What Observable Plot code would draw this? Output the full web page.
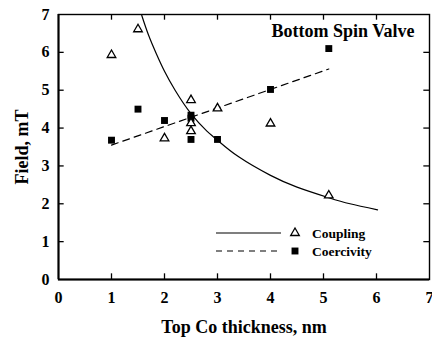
<!DOCTYPE html>
<html><head><meta charset="utf-8">
<script src="https://cdn.jsdelivr.net/npm/d3@7"></script>
<script src="https://cdn.jsdelivr.net/npm/@observablehq/plot@0.6"></script>
<style>
body{margin:0;background:#fff;}
#wrap{position:relative;width:432px;height:339px;}
#wrap svg text{font-family:"Liberation Serif","Times New Roman",serif;font-weight:bold;}
#legend{position:absolute;left:0;top:0;pointer-events:none;}
</style></head><body><div id="wrap"></div>
<script>
// ---- data ----
const xTicks = [0, 1, 2, 3, 4, 5, 6, 7];
const yTicks = [0, 1, 2, 3, 4, 5, 6, 7];
const innerTicks = [1, 2, 3, 4, 5, 6];

const couplingX = [1.0, 1.5, 2.0, 2.5, 2.5, 2.5, 3.0, 4.0, 5.1];
const couplingY = [5.93, 6.61, 3.73, 4.74, 4.13, 3.92, 4.52, 4.12, 2.22];

const coercivityX = [1.0, 1.5, 2.0, 2.5, 2.5, 2.5, 3.0, 4.0, 5.1];
const coercivityY = [3.68, 4.5, 4.2, 4.34, 4.26, 3.7, 3.7, 5.02, 6.1];

const couplingFitX = [1.57, 1.7, 1.85, 2.0, 2.2, 2.5, 2.8, 3.0, 3.4, 4.0, 4.5, 5.1, 5.5, 6.02];
const couplingFitY = [6.98, 6.45, 5.95, 5.5, 5.0, 4.38, 3.92, 3.68, 3.24, 2.75, 2.44, 2.16, 2.0, 1.84];

const coercivityFitX = [1.0, 5.1];
const coercivityFitY = [3.55, 5.56];

const seriesNames = ["Coupling", "Coercivity"];
const titleText = "Bottom Spin Valve";
const xLabel = "Top Co thickness, nm";
const yLabel = "Field, mT";

// ---- build tables ----
const zip = (xs, ys) => xs.map((x, i) => ({x, y: ys[i]}));
const coupling = zip(couplingX, couplingY);
const coercivity = zip(coercivityX, coercivityY);
const couplingFit = zip(couplingFitX, couplingFitY);
const coercivityFit = zip(coercivityFitX, coercivityFitY);

const FONT = '"Liberation Serif", "Times New Roman", serif';
const tickLenY = 0.15;  // in y units (~5.7px)
const tickLenX = 0.107; // in x units (~5.7px)

const plot = Plot.plot({
  width: 432, height: 339,
  marginLeft: 58, marginRight: 3, marginTop: 14, marginBottom: 60,
  x: {domain: [0, 7]},
  y: {domain: [0, 7]},
  style: {fontFamily: FONT, fontWeight: "bold", fontSize: "16px", background: "white", color: "black", overflow: "visible"},
  marks: [
    Plot.axisX(xTicks, {tickSize: 0, tickPadding: 12, label: null, fontSize: 16, fontFamily: FONT, fontWeight: "bold"}),
    Plot.axisY(yTicks, {tickSize: 0, tickPadding: 9, label: null, fontSize: 16, fontFamily: FONT, fontWeight: "bold"}),
    // inward ticks
    Plot.ruleX(innerTicks, {x: d => d, y1: 0, y2: tickLenY, stroke: "black", strokeWidth: 1.3}),
    Plot.ruleX(innerTicks, {x: d => d, y1: 7, y2: 7 - tickLenY, stroke: "black", strokeWidth: 1.3}),
    Plot.ruleY(innerTicks, {y: d => d, x1: 0, x2: tickLenX, stroke: "black", strokeWidth: 1.3}),
    Plot.ruleY(innerTicks, {y: d => d, x1: 7, x2: 7 - tickLenX, stroke: "black", strokeWidth: 1.3}),
    Plot.frame({stroke: "black", strokeWidth: 1.4}),
    Plot.ruleX([0], {stroke: "black", strokeWidth: 2}),
    Plot.ruleY([0], {stroke: "black", strokeWidth: 2}),
    // fits
    Plot.line(couplingFit, {x: "x", y: "y", curve: "natural", stroke: "black", strokeWidth: 1.2}),
    Plot.line(coercivityFit, {x: "x", y: "y", stroke: "black", strokeWidth: 1.2, strokeDasharray: "7,5"}),
    // points
    Plot.dot(coercivity, {x: "x", y: "y", symbol: "square", r: 3.9, fill: "black", stroke: "none"}),
    Plot.dot(coupling, {x: "x", y: "y", symbol: "triangle", r: 3.2, fill: "white", stroke: "black", strokeWidth: 1.3}),
    // texts
    Plot.text([titleText], {frameAnchor: "top-right", textAnchor: "end", lineAnchor: "middle", dx: -15, dy: 17, fontSize: 18, fontWeight: "bold", fontFamily: FONT}),
    Plot.text([xLabel], {frameAnchor: "bottom", textAnchor: "middle", lineAnchor: "middle", dy: 48, fontSize: 18, fontWeight: "bold", fontFamily: FONT}),
    Plot.text([yLabel], {frameAnchor: "left", textAnchor: "middle", lineAnchor: "middle", rotate: -90, dx: -36, fontSize: 18, fontWeight: "bold", fontFamily: FONT})
  ]
});

const wrap = document.getElementById("wrap");
wrap.appendChild(plot);

// ---- legend overlay ----
const legend = d3.select(wrap).append("svg").attr("id", "legend")
  .attr("width", 432).attr("height", 339);
const rows = [
  {name: seriesNames[0], y: 233, dash: null, sym: d3.symbolTriangle, size: Math.PI * 3.2 * 3.2, fill: "white", stroke: "black"},
  {name: seriesNames[1], y: 251, dash: "6,5", sym: d3.symbolSquare, size: Math.PI * 3.9 * 3.9, fill: "black", stroke: "none"}
];
rows.forEach(r => {
  legend.append("line").attr("x1", 216).attr("x2", 281).attr("y1", r.y).attr("y2", r.y)
    .attr("stroke", "black").attr("stroke-width", 1.2).attr("stroke-dasharray", r.dash);
  legend.append("path").attr("d", d3.symbol(r.sym, r.size)())
    .attr("transform", `translate(295,${r.y})`).attr("fill", r.fill).attr("stroke", r.stroke).attr("stroke-width", 1.3);
  legend.append("text").attr("x", 312).attr("y", r.y + 5).text(r.name)
    .attr("font-family", FONT).attr("font-weight", "bold").attr("font-size", "13.5px").attr("fill", "black");
});
</script>
</body></html>
